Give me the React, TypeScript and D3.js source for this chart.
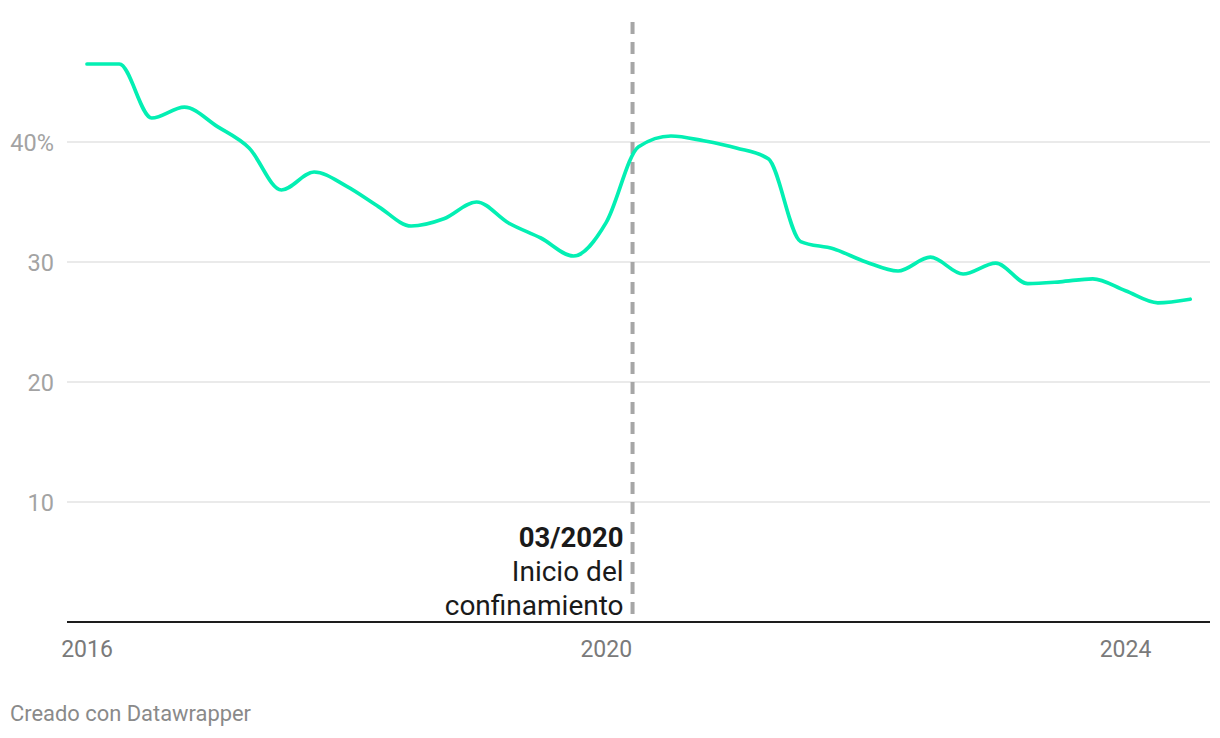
import React from "react";
import * as d3 from "d3";

const dates: string[] = [
  "2016-01-01", "2016-04-01", "2016-07-01", "2016-10-01",
  "2017-01-01", "2017-04-01", "2017-07-01", "2017-10-01",
  "2018-01-01", "2018-04-01", "2018-07-01", "2018-10-01",
  "2019-01-01", "2019-04-01", "2019-07-01", "2019-10-01",
  "2020-01-01", "2020-04-01", "2020-07-01", "2020-10-01",
  "2021-01-01", "2021-04-01", "2021-07-01", "2021-10-01",
  "2022-01-01", "2022-04-01", "2022-07-01", "2022-10-01",
  "2023-01-01", "2023-04-01", "2023-07-01", "2023-10-01",
  "2024-01-01", "2024-04-01", "2024-07-01",
];

const values: number[] = [
  46.5, 46.5, 42.0, 42.9,
  41.3, 39.5, 36.0, 37.5,
  36.3, 34.6, 33.0, 33.6,
  35.0, 33.25, 32.0, 30.5,
  33.3, 39.6, 40.5, 40.1,
  39.5, 38.6, 31.7, 31.1,
  30.0, 29.25, 30.4, 29.0,
  29.9, 28.2, 28.35, 28.6,
  27.6, 26.6, 26.9,
];

const yTicks: number[] = [10, 20, 30, 40];
const xTickYears: number[] = [2016, 2020, 2024];
const markerDate = "2020-03-15";
const markerTitle = "03/2020";
const markerLines: string[] = ["Inicio del", "confinamiento"];
const footer = "Creado con Datawrapper";

const W = 1220;
const H = 738;
const FONT = "Roboto, 'Noto Sans', sans-serif";

export default function App() {
  const parse = d3.timeParse("%Y-%m-%d");
  const data = dates.map((d, i) => ({ date: parse(d) as Date, value: values[i] }));

  const x = d3
    .scaleTime()
    .domain([parse("2016-01-01") as Date, parse("2024-01-01") as Date])
    .range([87, 1125.5]);
  const y = d3.scaleLinear().domain([0, 40]).range([622, 142]);

  const plotLeft = 67;
  const plotRight = 1210;

  const line = d3
    .line<{ date: Date; value: number }>()
    .x((d) => x(d.date))
    .y((d) => y(d.value))
    .curve(d3.curveMonotoneX);

  const mx = x(parse(markerDate) as Date);

  return (
    <div style={{ position: "absolute", left: 0, top: 0 }}>
      <svg width={W} height={H} style={{ display: "block", background: "#fff" }}>
        {yTicks.map((t) => (
          <g key={t}>
            <line x1={plotLeft} x2={plotRight} y1={y(t)} y2={y(t)} stroke="#e3e3e3" strokeWidth={1.5} />
            <text
              x={54}
              y={y(t) + 8.5}
              textAnchor="end"
              fontFamily={FONT}
              fontSize={23.5}
              fill="#a3a3a3"
            >
              {t === 40 ? `${t}%` : t}
            </text>
          </g>
        ))}

        <line
          x1={mx}
          x2={mx}
          y1={22}
          y2={y(0)}
          stroke="#a6a6a6"
          strokeWidth={4}
          strokeDasharray="12 8"
        />

        <line x1={plotLeft} x2={plotRight} y1={y(0)} y2={y(0)} stroke="#1d1d1d" strokeWidth={2} />

        {xTickYears.map((yr) => (
          <text
            key={yr}
            x={x(new Date(yr, 0, 1))}
            y={657}
            textAnchor="middle"
            fontFamily={FONT}
            fontSize={23}
            fill="#7a7a7a"
          >
            {yr}
          </text>
        ))}

        <path d={line(data) || ""} fill="none" stroke="#03efb3" strokeWidth={3.7} strokeLinecap="round" strokeLinejoin="round" />

        <text x={mx - 9} y={547} textAnchor="end" fontFamily={FONT} fontSize={27.5} fontWeight={700} fill="#1a1a1a">
          {markerTitle}
        </text>
        {markerLines.map((l, i) => (
          <text key={l} x={mx - 9} y={581 + i * 34} textAnchor="end" fontFamily={FONT} fontSize={28} fill="#1a1a1a">
            {l}
          </text>
        ))}

        <text x={10} y={721} fontFamily={FONT} fontSize={21.9} fill="#8a8a8a">
          {footer}
        </text>
      </svg>
    </div>
  );
}
